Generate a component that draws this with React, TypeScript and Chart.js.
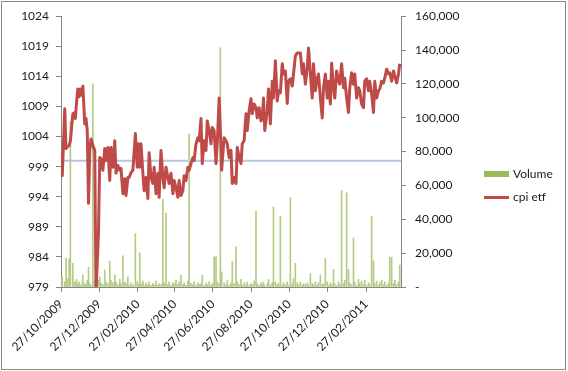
import React, { useEffect, useRef } from 'react';
import { Chart, registerables } from 'chart.js';

Chart.register(...registerables);

// ---- Data ----
const startDate = '27/10/2009';
const tickLabels = ['27/10/2009', '27/12/2009', '27/02/2010', '27/04/2010', '27/06/2010', '27/08/2010', '27/10/2010', '27/12/2010', '27/02/2011'];
const lastDay = 544; // ~24/04/2011
const leftTicks = [979, 984, 989, 994, 999, 1004, 1009, 1014, 1019, 1024];
const rightMax = 160000;
const rightStep = 20000;
const referenceLevel = 1000;

// days after 27/10/2009
const dayOffsets = [
  0, 2, 6, 8, 10, 13, 15, 19, 22, 23, 25, 27, 29, 31, 34, 35, 38, 40, 42, 44,
  46, 48, 51, 54, 56, 60, 62, 64, 67, 70, 72, 75, 78, 80, 83, 86, 88, 91, 94, 96,
  99, 102, 104, 107, 109, 112, 115, 119, 122, 124, 126, 128, 131, 133, 136, 139, 141, 144, 147, 149,
  152, 155, 157, 160, 163, 165, 168, 171, 173, 176, 179, 181, 184, 187, 189, 192, 195, 197, 200, 203,
  205, 208, 211, 213, 216, 219, 221, 224, 226, 229, 232, 234, 237, 240, 242, 245, 248, 250, 253, 255,
  257, 261, 264, 266, 269, 272, 274, 277, 280, 282, 285, 288, 290, 293, 296, 298, 301, 304, 306, 309,
  312, 314, 317, 320, 322, 324, 326, 330, 332, 335, 338, 340, 343, 346, 348, 351, 354, 356, 359, 362,
  364, 367, 370, 372, 375, 378, 380, 383, 386, 388, 391, 394, 396, 399, 402, 404, 407, 410, 412, 415,
  418, 420, 423, 426, 428, 431, 433, 436, 438, 441, 444, 446, 449, 452, 454, 457, 460, 462, 465, 468,
  470, 473, 476, 478, 481, 484, 486, 489, 492, 494, 497, 500, 502, 505, 508, 510, 513, 516, 518, 521,
  524, 526, 529, 532, 534, 537, 540, 542,
];

const cpiEtf = [
  1001.3, 997.5, 1008.6, 1002.0, 1002.3, 1002.5, 1003.3, 1007.8, 1008.0, 1007.0, 1009.9, 1011.9, 1010.6, 1011.9, 1010.8, 1012.4, 1006.1, 1007.0, 1005.0, 992.9,
  1001.7, 1003.6, 1002.5, 1001.7, 978.0, 988.1, 1000.5, 1000.3, 998.4, 1002.0, 1000.0, 1002.2, 996.7, 1002.2, 998.9, 1003.3, 997.9, 999.2, 998.4, 998.7,
  994.5, 997.0, 994.2, 997.2, 997.2, 998.0, 998.4, 1004.5, 998.9, 1002.8, 998.9, 1002.8, 997.9, 995.0, 997.2, 993.7, 1001.3, 997.2, 996.2, 998.9,
  994.5, 997.9, 993.9, 1001.7, 997.2, 995.5, 998.9, 997.2, 996.2, 997.9, 994.5, 996.7, 995.5, 993.9, 996.7, 994.2, 995.0, 997.5, 996.7, 998.9,
  998.4, 999.5, 1000.5, 1000.0, 1002.8, 1003.8, 1003.3, 1007.0, 999.5, 1003.3, 1001.7, 1006.6, 1005.0, 1002.8, 1005.5, 1005.0, 999.5, 1002.8, 1010.4, 1005.0,
  998.4, 1003.8, 1003.3, 1002.8, 1000.5, 1001.7, 996.2, 997.2, 996.2, 1002.2, 1000.5, 999.5, 1002.8, 1003.3, 1007.8, 1005.0, 1008.3, 1010.3, 1007.8, 1009.4,
  1008.8, 1007.1, 1008.8, 1006.6, 1007.1, 1010.4, 1005.0, 1008.3, 1011.9, 1006.1, 1013.2, 1010.4, 1016.6, 1009.9, 1011.6, 1011.3, 1016.1, 1014.4, 1014.9, 1009.5,
  1013.2, 1013.6, 1012.4, 1014.4, 1017.4, 1017.9, 1017.9, 1017.9, 1014.4, 1016.1, 1012.7, 1015.4, 1018.7, 1014.4, 1010.4, 1016.1, 1011.6, 1013.7, 1014.4, 1010.4,
  1007.1, 1012.1, 1014.4, 1010.4, 1013.2, 1009.4, 1016.2, 1012.1, 1010.4, 1014.9, 1013.2, 1012.7, 1016.1, 1012.1, 1013.7, 1010.4, 1008.0, 1012.1, 1014.6, 1012.7,
  1014.4, 1010.4, 1012.1, 1011.6, 1009.4, 1008.8, 1013.2, 1013.6, 1011.6, 1013.2, 1011.1, 1008.0, 1013.2, 1010.4, 1011.6, 1011.9, 1013.2, 1012.9, 1013.7, 1015.2,
  1014.4, 1014.6, 1013.2, 1014.9, 1014.1, 1012.9, 1014.4, 1016.1,
];

const volume = [
  4000, 6000, 3000, 16900, 5000, 16500, 98000, 14000, 3000, 2000, 4500, 1500, 3000, 1000, 2500, 7000, 2000, 1500, 4000, 11600,
  2000, 1000, 120000, 3500, 2000, 4000, 6000, 2500, 1500, 10000, 3000, 2000, 15300, 4000, 2500, 7000, 3000, 1500, 4500, 2000,
  18400, 3000, 2000, 6000, 1000, 2500, 1500, 31600, 3000, 1500, 20200, 2000, 3500, 1000, 2500, 1500, 3000, 1000, 2000, 1500,
  3500, 1000, 2000, 1500, 51800, 2500, 43700, 1500, 3000, 1000, 2500, 2000, 4000, 1500, 3000, 7000, 1500, 2500, 1000, 3500,
  90400, 2000, 1500, 3000, 1000, 2500, 1500, 2000, 7000, 1000, 2500, 1500, 3000, 1000, 2000, 17800, 17800, 3000, 2000, 141300,
  9000, 2500, 1500, 4000, 1000, 2500, 15000, 2000, 23700, 3000, 1500, 4500, 1000, 2500, 1500, 3000, 1000, 2000, 1500, 3500,
  44700, 2000, 1000, 2500, 1500, 3000, 1000, 2000, 4500, 1500, 2500, 47200, 3000, 1500, 2000, 41800, 1000, 2500, 1500, 3000,
  1000, 52800, 2000, 5000, 14000, 2500, 1500, 3000, 1000, 2000, 1500, 2500, 1000, 8000, 2000, 1500, 3000, 1000, 2500, 7000,
  1500, 2000, 16900, 3000, 1000, 2500, 1500, 10400, 2000, 1000, 3000, 1500, 57000, 2000, 4000, 55700, 10400, 2500, 1500, 29000,
  3000, 1000, 4500, 2000, 3500, 1500, 4000, 1000, 2500, 1500, 41800, 15500, 2000, 3500, 1000, 2500, 4000, 1500, 3000, 1000,
  2500, 17800, 17500, 2000, 4000, 1500, 3000, 12900,
];

// ---- helpers ----
function toDays(s: string): number {
  const [d, m, y] = s.split('/').map(Number);
  const [d0, m0, y0] = startDate.split('/').map(Number);
  return Math.round((Date.UTC(y, m - 1, d) - Date.UTC(y0, m0 - 1, d0)) / 86400000);
}
const tickDays = tickLabels.map(toDays);

const FONT = { family: 'Lato, "Open Sans", sans-serif', size: 12 };
const TEXT = '#1a1a1a';
const AXIS = '#868686';
const RED = '#BE4B48';
const GREEN = '#9BBB59';
const BAR_GREEN = '#B3CB82';

const legendPlugin = {
  id: 'sideLegend',
  afterDraw(chart: any) {
    const ctx = chart.ctx;
    const ds = chart.data.datasets;
    ctx.save();
    ctx.fillStyle = GREEN;
    ctx.fillRect(484, 171, 25, 6);
    ctx.strokeStyle = RED;
    ctx.lineWidth = 3;
    ctx.beginPath();
    ctx.moveTo(484, 197.5);
    ctx.lineTo(509, 197.5);
    ctx.stroke();
    ctx.fillStyle = TEXT;
    ctx.font = `${FONT.size}px ${FONT.family}`;
    ctx.textBaseline = 'middle';
    ctx.textAlign = 'left';
    ctx.fillText(ds[0].label, 513, 174);
    ctx.fillText(ds[2].label, 513, 197.5);
    ctx.strokeStyle = '#8a8a8a';
    ctx.lineWidth = 1;
    ctx.strokeRect(1.5, 1.5, 564, 368);
    ctx.restore();
  },
};

export default function App() {
  const ref = useRef<HTMLCanvasElement | null>(null);

  useEffect(() => {
    if (!ref.current) return;
    const chart = new Chart(ref.current, {
      type: 'bar',
      data: {
        datasets: [
          {
            type: 'bar',
            label: 'Volume',
            data: dayOffsets.map((d, i) => ({ x: d, y: volume[i] })),
            backgroundColor: BAR_GREEN,
            barThickness: 1,
            yAxisID: 'y2',
            order: 3,
          } as any,
          {
            type: 'line',
            label: 'ref',
            data: [
              { x: 0, y: referenceLevel },
              { x: lastDay, y: referenceLevel },
            ],
            borderColor: '#B7C6DE',
            borderWidth: 2,
            pointRadius: 0,
            yAxisID: 'y',
            order: 2,
          },
          {
            type: 'line',
            label: 'cpi etf',
            data: dayOffsets.map((d, i) => ({ x: d, y: cpiEtf[i] })),
            borderColor: RED,
            borderWidth: 3,
            pointRadius: 0,
            tension: 0,
            borderJoinStyle: 'round',
            yAxisID: 'y',
            order: 1,
          },
        ],
      },
      options: {
        responsive: false,
        animation: false,
        layout: { padding: { top: 15, left: 0, right: 0, bottom: 0 } },
        plugins: { legend: { display: false }, tooltip: { enabled: false } },
        scales: {
          x: {
            type: 'linear',
            min: 0,
            max: lastDay,
            offset: false,
            grid: { drawOnChartArea: false, drawTicks: true, tickLength: 5, color: AXIS, offset: false },
            border: { color: AXIS },
            ticks: {
              autoSkip: false,
              minRotation: 45,
              maxRotation: 45,
              font: FONT,
              color: TEXT,
              padding: 5,
              callback: (v: any) => {
                const i = tickDays.indexOf(Number(v));
                return i >= 0 ? tickLabels[i] : '';
              },
            },
            afterBuildTicks: (s: any) => {
              s.ticks = tickDays.map((v) => ({ value: v }));
            },
            afterFit: (s: any) => {
              s.height = 84;
            },
          },
          y: {
            type: 'linear',
            position: 'left',
            min: leftTicks[0],
            max: leftTicks[leftTicks.length - 1],
            grid: { drawOnChartArea: false, drawTicks: true, tickLength: 5, color: AXIS },
            border: { color: AXIS },
            ticks: { font: FONT, color: TEXT, padding: 7, callback: (v: any) => String(v) },
            afterBuildTicks: (s: any) => {
              s.ticks = leftTicks.map((v) => ({ value: v }));
            },
            afterFit: (s: any) => {
              s.width = 61;
            },
          },
          y2: {
            type: 'linear',
            position: 'right',
            min: 0,
            max: rightMax,
            grid: { drawOnChartArea: false, drawTicks: true, tickLength: 5, color: AXIS },
            border: { color: AXIS },
            ticks: {
              stepSize: rightStep,
              font: FONT,
              color: TEXT,
              padding: 9,
              callback: (v: any) => (Number(v) === 0 ? '-' : Number(v).toLocaleString('en-US')),
            },
            afterFit: (s: any) => {
              s.width = 167;
            },
          },
        },
      },
      plugins: [legendPlugin],
    } as any);
    return () => chart.destroy();
  }, []);

  return (
    <div style={{ position: 'absolute', left: 0, top: 0, width: 568, height: 371, background: '#fff' }}>
      <canvas ref={ref} width={568} height={371} style={{ display: 'block' }} />
    </div>
  );
}
